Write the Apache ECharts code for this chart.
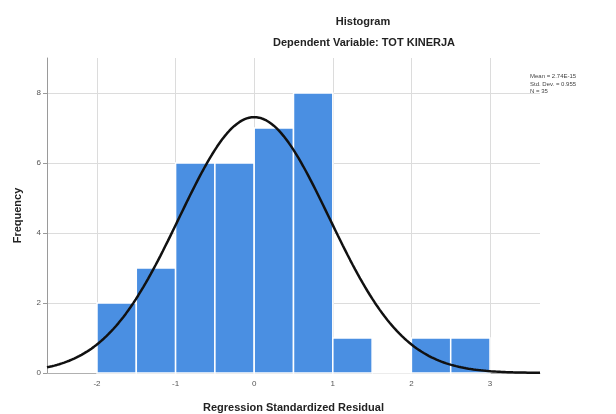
<!DOCTYPE html>
<html>
<head>
<meta charset="utf-8">
<style>
  html, body { margin: 0; padding: 0; background: #ffffff; }
  #chart { width: 616px; height: 414px; }
</style>
<script src="https://cdn.jsdelivr.net/npm/echarts@6/dist/echarts.min.js"></script>
</head>
<body>
<div id="chart"></div>
<script>
// Histogram bins (lower edge of each 0.5-wide bin) and their frequencies
const binStarts = [-2, -1.5, -1, -0.5, 0, 0.5, 1, 1.5, 2, 2.5];
const binCounts = [2, 3, 6, 6, 7, 8, 1, 0, 1, 1];
const binWidth = 0.5;

// Summary statistics shown in the side note
const meanValue = 2.74e-15;
const stdDev = 0.955;
const nCases = 35;
const statLines = ['Mean = 2.74E-15', 'Std. Dev. = 0.955', 'N = 35'];

// Axis ticks
const xTicks = [-2, -1, 0, 1, 2, 3];
const yTicks = [0, 2, 4, 6, 8];
const xMin = -2.636, xMax = 3.636;

// Normal curve scaled to frequency: N * binWidth * pdf(x)
const curve = [];
const steps = 200;
for (let i = 0; i <= steps; i++) {
  const x = xMin + (xMax - xMin) * i / steps;
  const z = (x - meanValue) / stdDev;
  const y = nCases * binWidth * Math.exp(-0.5 * z * z) / (stdDev * Math.sqrt(2 * Math.PI));
  curve.push([x, y]);
}

const bars = binStarts.map((s, i) => [s, s + binWidth, binCounts[i]]);

const font = '"Liberation Sans", Arial, sans-serif';
const chart = echarts.init(document.getElementById('chart'), null, { renderer: 'canvas' });

chart.setOption({
  animation: false,
  backgroundColor: '#ffffff',
  title: [
    { text: 'Histogram', left: 358, top: 11, textAlign: 'center',
      textStyle: { fontFamily: font, fontSize: 11, fontWeight: 'bold', color: '#222' } },
    { text: 'Dependent Variable: TOT KINERJA', left: 359, top: 32, textAlign: 'center',
      textStyle: { fontFamily: font, fontSize: 11, fontWeight: 'bold', color: '#222' } }
  ],
  graphic: [{
    type: 'text', left: 530, top: 73,
    style: { text: statLines.join('\n'), fontFamily: font, fontSize: 6, lineHeight: 7.5, fill: '#444' }
  }],
  grid: { left: 47, right: 76, top: 58, bottom: 41, outerBoundsMode: 'none', containLabel: false },
  xAxis: {
    type: 'value', min: xMin, max: xMax,
    name: 'Regression Standardized Residual', nameLocation: 'middle', nameGap: 29,
    nameTextStyle: { fontFamily: font, fontSize: 11, fontWeight: 'bold', color: '#222' },
    axisLine: { show: true, onZero: false, lineStyle: { color: '#b0b0b0', width: 1 } },
    axisTick: { show: false, customValues: xTicks },
    axisLabel: { customValues: xTicks, fontFamily: font, fontSize: 8, color: '#555', margin: 7 },
    splitLine: { show: true, lineStyle: { color: '#dcdcdc', width: 1 } }
  },
  yAxis: {
    type: 'value', min: 0, max: 9,
    name: 'Frequency', nameLocation: 'middle', nameGap: 24, nameRotate: 90,
    nameTextStyle: { fontFamily: font, fontSize: 11, fontWeight: 'bold', color: '#222' },
    axisLine: { show: true, onZero: false, lineStyle: { color: '#9a9a9a', width: 1 } },
    axisTick: { show: true, length: 4, customValues: yTicks, lineStyle: { color: '#9a9a9a' } },
    axisLabel: { customValues: yTicks, fontFamily: font, fontSize: 8, color: '#555', margin: 6 },
    splitLine: { show: true, lineStyle: { color: '#dcdcdc', width: 1 } }
  },
  series: [
    {
      type: 'custom',
      data: bars,
      z: 2,
      renderItem: function (params, api) {
        const p0 = api.coord([api.value(0), 0]);
        const p1 = api.coord([api.value(1), api.value(2)]);
        return {
          type: 'rect',
          shape: { x: p0[0], y: p1[1], width: p1[0] - p0[0], height: p0[1] - p1[1] },
          style: { fill: '#4A8FE2', stroke: '#ffffff', lineWidth: 1.5 }
        };
      }
    },
    {
      type: 'line',
      data: curve,
      z: 3,
      showSymbol: false,
      smooth: false,
      lineStyle: { color: '#111', width: 2.5 }
    }
  ]
});
</script>
</body>
</html>
